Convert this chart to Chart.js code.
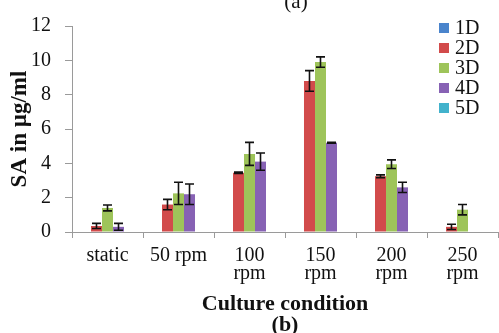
<!DOCTYPE html>
<html>
<head>
<meta charset="utf-8">
<script src="https://cdn.jsdelivr.net/npm/chart.js@4/dist/chart.umd.min.js"></script>
<style>
  body { margin: 0; background: #fff; }
  #wrap { width: 499px; height: 333px; }
</style>
</head>
<body>
<div id="wrap"><canvas id="myBarChart" width="499" height="333"></canvas></div>
<script>
// categories (x axis)
const conditions = ["static", "50 rpm", ["100", "rpm"], ["150", "rpm"], ["200", "rpm"], ["250", "rpm"]]
const seriesNames = ["1D", "2D", "3D", "4D", "5D"]

// SA values (µg/ml)
const d1 = [0, 0, 0, 0, 0, 0]
const d2 = [0.35, 1.6, 3.45, 8.8, 3.25, 0.3]
const d3 = [1.4, 2.25, 4.55, 9.9, 3.95, 1.3]
const d4 = [0.3, 2.2, 4.1, 5.2, 2.6, 0]
const d5 = [0, 0, 0, 0, 0, 0]

// error bars (+/-)
const e1 = [0, 0, 0, 0, 0, 0]
const e2 = [0.15, 0.3, 0.04, 0.6, 0.08, 0.15]
const e3 = [0.17, 0.65, 0.67, 0.3, 0.25, 0.3]
const e4 = [0.2, 0.6, 0.5, 0.03, 0.3, 0]
const e5 = [0, 0, 0, 0, 0, 0]

const yTicks = [0, 2, 4, 6, 8, 10, 12]

const colors = ["#4a84cc", "#d24b4b", "#9ec45a", "#8762b4", "#42b2cc"]
const values = [d1, d2, d3, d4, d5]
const errors = [e1, e2, e3, e4, e5]

const serif = "'Liberation Serif', 'Times New Roman', serif"

// 誤差棒を描く
const errorBars = {
  id: 'errorBars',
  afterDatasetsDraw(chart) {
    const ctx = chart.ctx
    const y = chart.scales.y
    ctx.save()
    ctx.strokeStyle = '#111'
    ctx.lineWidth = 1.6
    chart.data.datasets.forEach((ds, di) => {
      const meta = chart.getDatasetMeta(di)
      meta.data.forEach((bar, i) => {
        const err = ds.errors[i]
        if (!err) return
        const v = ds.data[i]
        const yt = y.getPixelForValue(v + err)
        const yb = y.getPixelForValue(v - err)
        const x = bar.x
        ctx.beginPath()
        ctx.moveTo(x, yt); ctx.lineTo(x, yb)
        ctx.moveTo(x - 4.5, yt); ctx.lineTo(x + 4.5, yt)
        ctx.moveTo(x - 4.5, yb); ctx.lineTo(x + 4.5, yb)
        ctx.stroke()
      })
    })
    ctx.restore()
  }
}

// 凡例と (a) を描く
const extras = {
  id: 'extras',
  afterDraw(chart) {
    const ctx = chart.ctx
    ctx.save()
    ctx.fillStyle = '#111'
    ctx.font = "21px " + serif
    ctx.textAlign = 'center'
    ctx.textBaseline = 'alphabetic'
    ctx.fillText('(a)', 296, 8)

    ctx.font = "20px " + serif
    ctx.textAlign = 'left'
    ctx.textBaseline = 'middle'
    chart.data.datasets.forEach((ds, i) => {
      const cy = 28 + i * 20
      ctx.fillStyle = ds.backgroundColor
      ctx.fillRect(439, cy - 5, 10, 10)
      ctx.fillStyle = '#111'
      ctx.fillText(ds.label, 455, cy + 1)
    })
    ctx.restore()
  }
}

const ctx = document.getElementById('myBarChart').getContext('2d')
window.myChart = new Chart(ctx, {
  type: 'bar',
  data: {
    labels: conditions,
    datasets: seriesNames.map((name, i) => ({
      label: name,
      data: values[i],
      errors: errors[i],
      backgroundColor: colors[i],
      borderWidth: 0,
      categoryPercentage: 0.775,
      barPercentage: 1
    }))
  },
  options: {
    responsive: false,
    animation: false,
    layout: { padding: { left: 0, top: 21, right: 1, bottom: 0 } },
    plugins: {
      legend: { display: false },
      tooltip: { enabled: false }
    },
    scales: {
      x: {
        afterFit(scale) { scale.height = 101 },
        grid: { drawOnChartArea: false, tickLength: 6, color: '#9a9a9a' },
        border: { color: '#9a9a9a' },
        ticks: {
          color: '#111',
          padding: 9,
          maxRotation: 0,
          autoSkip: false,
          font: { family: serif, size: 20, lineHeight: 0.88 }
        },
        title: {
          display: true,
          text: ['Culture condition', '(b)'],
          color: '#111',
          padding: { top: 0, bottom: -2 },
          font: { family: serif, size: 22, weight: 'bold', lineHeight: 0.92 }
        }
      },
      y: {
        min: 0,
        max: 12,
        afterFit(scale) { scale.width = 72 },
        afterBuildTicks(scale) { scale.ticks = yTicks.map(v => ({ value: v })) },
        grid: { drawOnChartArea: false, tickLength: 7, color: '#9a9a9a' },
        border: { color: '#9a9a9a' },
        ticks: {
          color: '#111',
          padding: 14,
          font: { family: serif, size: 20 }
        },
        title: {
          display: true,
          text: 'SA in µg/ml',
          color: '#111',
          padding: { top: 9, bottom: 0 },
          font: { family: serif, size: 23, weight: 'bold', lineHeight: 1 }
        }
      }
    }
  },
  plugins: [errorBars, extras]
})
</script>
</body>
</html>
